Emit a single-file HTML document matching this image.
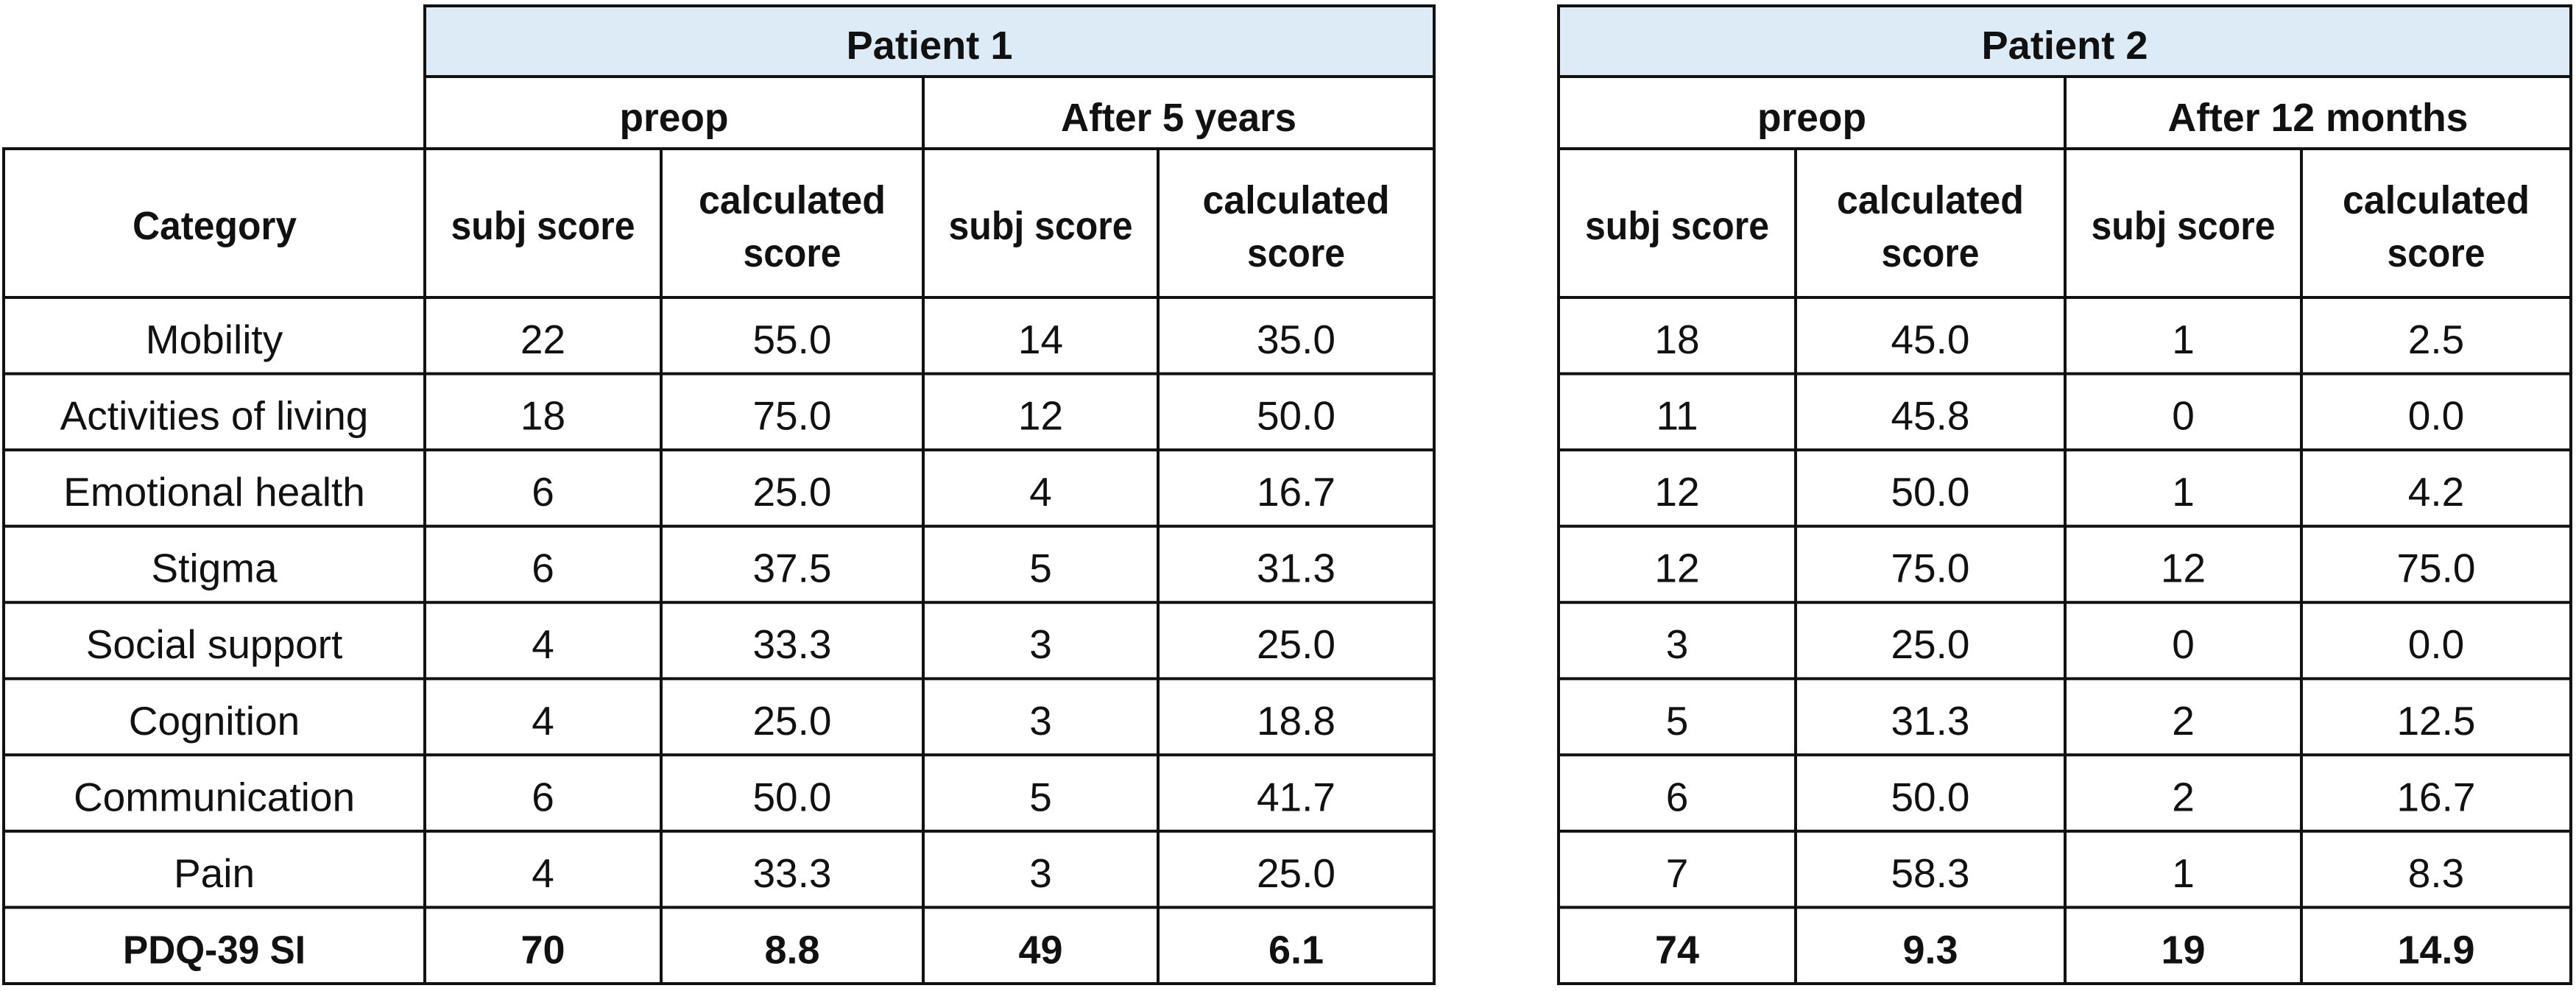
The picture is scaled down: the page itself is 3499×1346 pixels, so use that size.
<!DOCTYPE html>
<html>
<head>
<meta charset="utf-8">
<style>
html,body{margin:0;padding:0;background:#fff;}
svg{display:block;}
.r{font-family:"Liberation Sans",sans-serif;font-size:55px;fill:#111;text-anchor:middle;}
.b{font-family:"Liberation Sans",sans-serif;font-size:54px;font-weight:bold;fill:#111;}
.bm{font-family:"Liberation Sans",sans-serif;font-size:54px;font-weight:bold;fill:#111;text-anchor:middle;}
</style>
</head>
<body>
<svg width="3499" height="1346" viewBox="0 0 3499 1346" xmlns="http://www.w3.org/2000/svg">
<rect x="0" y="0" width="3499" height="1346" fill="#fff"/>
<!-- blue header fills -->
<rect x="577" y="8" width="1371" height="96" fill="#DDEBF7"/>
<rect x="2117" y="8" width="1375" height="96" fill="#DDEBF7"/>

<g fill="#111">
<!-- LEFT TABLE horizontals -->
<rect x="575" y="6" width="1375" height="4"/>
<rect x="575" y="102" width="1375" height="4"/>
<rect x="3" y="200" width="1947" height="4"/>
<rect x="3" y="402" width="1947" height="4"/>
<rect x="3" y="505.6" width="1947" height="4"/>
<rect x="3" y="609.1" width="1947" height="4"/>
<rect x="3" y="712.7" width="1947" height="4"/>
<rect x="3" y="816.2" width="1947" height="4"/>
<rect x="3" y="919.8" width="1947" height="4"/>
<rect x="3" y="1023.3" width="1947" height="4"/>
<rect x="3" y="1126.9" width="1947" height="4"/>
<rect x="3" y="1230.4" width="1947" height="4"/>
<rect x="3" y="1334" width="1947" height="4"/>
<!-- LEFT TABLE verticals -->
<rect x="3" y="200" width="4" height="1138"/>
<rect x="575" y="6" width="4" height="1332"/>
<rect x="896" y="202" width="4" height="1134"/>
<rect x="1252" y="104" width="4" height="1232"/>
<rect x="1571" y="202" width="4" height="1134"/>
<rect x="1946" y="6" width="4" height="1332"/>

<!-- RIGHT TABLE horizontals -->
<rect x="2115" y="6" width="1379" height="4"/>
<rect x="2115" y="102" width="1379" height="4"/>
<rect x="2115" y="200" width="1379" height="4"/>
<rect x="2115" y="402" width="1379" height="4"/>
<rect x="2115" y="505.6" width="1379" height="4"/>
<rect x="2115" y="609.1" width="1379" height="4"/>
<rect x="2115" y="712.7" width="1379" height="4"/>
<rect x="2115" y="816.2" width="1379" height="4"/>
<rect x="2115" y="919.8" width="1379" height="4"/>
<rect x="2115" y="1023.3" width="1379" height="4"/>
<rect x="2115" y="1126.9" width="1379" height="4"/>
<rect x="2115" y="1230.4" width="1379" height="4"/>
<rect x="2115" y="1334" width="1379" height="4"/>
<!-- RIGHT TABLE verticals -->
<rect x="2115" y="6" width="4" height="1332"/>
<rect x="2437" y="202" width="4" height="1134"/>
<rect x="2803" y="104" width="4" height="1232"/>
<rect x="3124" y="202" width="4" height="1134"/>
<rect x="3490" y="6" width="4" height="1332"/>
</g>

<!-- HEADER TEXT: left -->
<text class="b" x="1149.5" y="80" textLength="226" lengthAdjust="spacingAndGlyphs">Patient 1</text>
<text class="b" x="841.5" y="178" textLength="148" lengthAdjust="spacingAndGlyphs">preop</text>
<text class="b" x="1441" y="178" textLength="320" lengthAdjust="spacingAndGlyphs">After 5 years</text>
<text class="b" x="180" y="325" textLength="223" lengthAdjust="spacingAndGlyphs">Category</text>
<text class="b" x="612.5" y="325" textLength="250" lengthAdjust="spacingAndGlyphs">subj score</text>
<text class="b" x="949" y="290" textLength="254" lengthAdjust="spacingAndGlyphs">calculated</text>
<text class="b" x="1009.5" y="362" textLength="133" lengthAdjust="spacingAndGlyphs">score</text>
<text class="b" x="1288.5" y="325" textLength="250" lengthAdjust="spacingAndGlyphs">subj score</text>
<text class="b" x="1633.5" y="290" textLength="254" lengthAdjust="spacingAndGlyphs">calculated</text>
<text class="b" x="1694" y="362" textLength="133" lengthAdjust="spacingAndGlyphs">score</text>

<!-- HEADER TEXT: right -->
<text class="b" x="2691.5" y="80" textLength="226" lengthAdjust="spacingAndGlyphs">Patient 2</text>
<text class="b" x="2387" y="178" textLength="148" lengthAdjust="spacingAndGlyphs">preop</text>
<text class="b" x="2944.5" y="178" textLength="408" lengthAdjust="spacingAndGlyphs">After 12 months</text>
<text class="b" x="2153" y="325" textLength="250" lengthAdjust="spacingAndGlyphs">subj score</text>
<text class="b" x="2495" y="290" textLength="254" lengthAdjust="spacingAndGlyphs">calculated</text>
<text class="b" x="2555.5" y="362" textLength="133" lengthAdjust="spacingAndGlyphs">score</text>
<text class="b" x="2840.5" y="325" textLength="250" lengthAdjust="spacingAndGlyphs">subj score</text>
<text class="b" x="3182" y="290" textLength="254" lengthAdjust="spacingAndGlyphs">calculated</text>
<text class="b" x="3242.5" y="362" textLength="133" lengthAdjust="spacingAndGlyphs">score</text>

<!-- DATA ROWS -->
<g>
<!-- Mobility -->
<text class="r" x="291" y="480">Mobility</text>
<text class="r" x="737.5" y="480">22</text><text class="r" x="1076" y="480">55.0</text>
<text class="r" x="1413.5" y="480">14</text><text class="r" x="1760.5" y="480">35.0</text>
<text class="r" x="2278" y="480">18</text><text class="r" x="2622" y="480">45.0</text>
<text class="r" x="2965.5" y="480">1</text><text class="r" x="3309" y="480">2.5</text>
<!-- Activities -->
<text class="r" x="291" y="583.6">Activities of living</text>
<text class="r" x="737.5" y="583.6">18</text><text class="r" x="1076" y="583.6">75.0</text>
<text class="r" x="1413.5" y="583.6">12</text><text class="r" x="1760.5" y="583.6">50.0</text>
<text class="r" x="2278" y="583.6">11</text><text class="r" x="2622" y="583.6">45.8</text>
<text class="r" x="2965.5" y="583.6">0</text><text class="r" x="3309" y="583.6">0.0</text>
<!-- Emotional -->
<text class="r" x="291" y="687.1">Emotional health</text>
<text class="r" x="737.5" y="687.1">6</text><text class="r" x="1076" y="687.1">25.0</text>
<text class="r" x="1413.5" y="687.1">4</text><text class="r" x="1760.5" y="687.1">16.7</text>
<text class="r" x="2278" y="687.1">12</text><text class="r" x="2622" y="687.1">50.0</text>
<text class="r" x="2965.5" y="687.1">1</text><text class="r" x="3309" y="687.1">4.2</text>
<!-- Stigma -->
<text class="r" x="291" y="790.7">Stigma</text>
<text class="r" x="737.5" y="790.7">6</text><text class="r" x="1076" y="790.7">37.5</text>
<text class="r" x="1413.5" y="790.7">5</text><text class="r" x="1760.5" y="790.7">31.3</text>
<text class="r" x="2278" y="790.7">12</text><text class="r" x="2622" y="790.7">75.0</text>
<text class="r" x="2965.5" y="790.7">12</text><text class="r" x="3309" y="790.7">75.0</text>
<!-- Social support -->
<text class="r" x="291" y="894.2">Social support</text>
<text class="r" x="737.5" y="894.2">4</text><text class="r" x="1076" y="894.2">33.3</text>
<text class="r" x="1413.5" y="894.2">3</text><text class="r" x="1760.5" y="894.2">25.0</text>
<text class="r" x="2278" y="894.2">3</text><text class="r" x="2622" y="894.2">25.0</text>
<text class="r" x="2965.5" y="894.2">0</text><text class="r" x="3309" y="894.2">0.0</text>
<!-- Cognition -->
<text class="r" x="291" y="997.8">Cognition</text>
<text class="r" x="737.5" y="997.8">4</text><text class="r" x="1076" y="997.8">25.0</text>
<text class="r" x="1413.5" y="997.8">3</text><text class="r" x="1760.5" y="997.8">18.8</text>
<text class="r" x="2278" y="997.8">5</text><text class="r" x="2622" y="997.8">31.3</text>
<text class="r" x="2965.5" y="997.8">2</text><text class="r" x="3309" y="997.8">12.5</text>
<!-- Communication -->
<text class="r" x="291" y="1101.3">Communication</text>
<text class="r" x="737.5" y="1101.3">6</text><text class="r" x="1076" y="1101.3">50.0</text>
<text class="r" x="1413.5" y="1101.3">5</text><text class="r" x="1760.5" y="1101.3">41.7</text>
<text class="r" x="2278" y="1101.3">6</text><text class="r" x="2622" y="1101.3">50.0</text>
<text class="r" x="2965.5" y="1101.3">2</text><text class="r" x="3309" y="1101.3">16.7</text>
<!-- Pain -->
<text class="r" x="291" y="1204.9">Pain</text>
<text class="r" x="737.5" y="1204.9">4</text><text class="r" x="1076" y="1204.9">33.3</text>
<text class="r" x="1413.5" y="1204.9">3</text><text class="r" x="1760.5" y="1204.9">25.0</text>
<text class="r" x="2278" y="1204.9">7</text><text class="r" x="2622" y="1204.9">58.3</text>
<text class="r" x="2965.5" y="1204.9">1</text><text class="r" x="3309" y="1204.9">8.3</text>
<!-- PDQ-39 SI -->
<text class="b" x="167" y="1308.4" textLength="248" lengthAdjust="spacingAndGlyphs">PDQ-39 SI</text>
<text class="bm" x="737.5" y="1308.4">70</text><text class="bm" x="1076" y="1308.4">8.8</text>
<text class="bm" x="1413.5" y="1308.4">49</text><text class="bm" x="1760.5" y="1308.4">6.1</text>
<text class="bm" x="2278" y="1308.4">74</text><text class="bm" x="2622" y="1308.4">9.3</text>
<text class="bm" x="2965.5" y="1308.4">19</text><text class="bm" x="3309" y="1308.4">14.9</text>
</g>
</svg>
</body>
</html>
